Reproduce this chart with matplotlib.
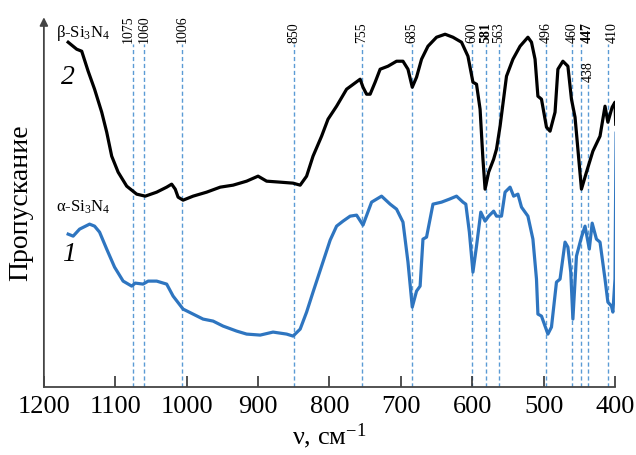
import matplotlib
matplotlib.use("Agg")
import matplotlib.pyplot as plt

plt.rcParams['font.family'] = ['Liberation Serif', 'DejaVu Serif']
plt.rcParams['mathtext.fontset'] = 'custom'
plt.rcParams['mathtext.rm'] = 'Liberation Serif'
plt.rcParams['mathtext.it'] = 'Liberation Serif:italic'

# IR spectrum of beta-Si3N4 (curve 2): wavenumber, cm^-1 and transmittance, arb. units
beta_wn = [1166, 1154, 1147, 1138, 1129, 1119, 1112, 1105, 1096, 1084, 1070, 1058,
           1042, 1028, 1021, 1016, 1012, 1005, 991, 972, 953, 935, 916, 900, 888,
           869, 851, 841, 832, 823, 811, 802, 790, 776, 757, 753, 748, 743, 736,
           729, 718, 706, 697, 690, 684, 678, 671, 662, 650, 638, 627, 615, 606,
           599, 594, 589, 585, 582, 577, 570, 566, 561, 552, 543, 533, 522, 517,
           512, 508, 503, 496, 491, 484, 480, 473, 466, 461, 456, 452, 447, 440,
           431, 421, 414, 410, 404, 400, 399]
beta_t = [345, 338, 336, 316, 298, 275, 255, 231, 215, 201, 193, 191,
          195, 200, 203, 198, 190, 187, 191, 195, 200, 202, 206, 211, 206,
          205, 204, 202, 211, 231, 251, 268, 281, 298, 308, 300, 293, 293, 305,
          318, 321, 326, 326, 318, 300, 310, 328, 341, 350, 353, 350, 345, 331,
          305, 303, 278, 228, 198, 215, 228, 238, 261, 311, 328, 341, 350, 345,
          328, 291, 288, 260, 256, 275, 318, 326, 321, 288, 270, 238, 198, 215,
          236, 251, 281, 265, 280, 285, 263]

# IR spectrum of alpha-Si3N4 (curve 1)
alpha_wn = [1166, 1159, 1150, 1136, 1129, 1122, 1112, 1101, 1089, 1077, 1072, 1061,
            1054, 1042, 1028, 1019, 1005, 991, 977, 963, 949, 930, 916, 897, 879,
            860, 851, 841, 832, 823, 811, 799, 790, 781, 771, 762, 753, 741, 727,
            715, 706, 697, 690, 684, 678, 673, 669, 664, 655, 643, 632, 622, 613,
            609, 604, 599, 594, 588, 582, 577, 570, 566, 559, 554, 547, 542, 536,
            531, 526, 522, 515, 510, 508, 503, 494, 489, 482, 477, 470, 466, 462,
            459, 454, 447, 442, 436, 432, 426, 421, 414, 410, 405, 403, 400, 399,
            398.5]
alpha_t = [153, 151, 158, 163, 161, 155, 138, 120, 106, 101, 104, 103,
           106, 106, 103, 91, 78, 73, 68, 66, 61, 56, 53, 52, 55,
           53, 51, 58, 75, 95, 121, 147, 161, 166, 171, 172, 162, 185, 191,
           183, 178, 165, 125, 80, 96, 101, 148, 150, 183, 185, 188, 191, 185,
           183, 155, 115, 141, 175, 166, 171, 176, 171, 171, 195, 200, 191, 193,
           180, 175, 171, 148, 108, 73, 71, 53, 60, 105, 108, 145, 140, 115,
           68, 131, 150, 161, 138, 164, 148, 145, 108, 85, 81, 75, 108, 208,
           254]

# Assigned absorption bands
band_wn = [1075, 1060, 1006, 850, 755, 685, 600, 581, 563, 496, 460, 447, 438, 410]
band_bold = [581, 447]

fig = plt.figure(figsize=(6.36, 4.56), dpi=100)
ax = fig.add_axes([0.069, 0.149, 0.898, 0.811])

ax.set_xlim(1200, 400)
ax.set_ylim(0, 370)

band_color = '#5b9bd5'
label_shift = {1075: 6.5, 447: -7.5, 410: -6}
for wn in band_wn:
    top = 303 if wn == 438 else 343
    ax.plot([wn, wn], [0, top], color=band_color, lw=1.0,
            linestyle=(0, (3, 2)), zorder=1)
    ly = 306 if wn == 438 else 345
    ax.text(wn + label_shift.get(wn, 0), ly, str(wn), rotation=90,
            ha='center', va='bottom', fontsize=10,
            fontweight='bold' if wn in band_bold else 'normal')

ax.plot(alpha_wn, alpha_t, color='#2e75c0', lw=2.3, zorder=3,
        solid_joinstyle='round')
ax.plot(beta_wn, beta_t, color='black', lw=2.3, zorder=4,
        solid_joinstyle='round')

ax.text(1145, 355, 'β-Si$_3$N$_4$', fontsize=12, ha='center', va='center')
ax.text(1145, 181, 'α-Si$_3$N$_4$', fontsize=12, ha='center', va='center')
ax.text(1166, 311, '2', fontsize=20, style='italic', ha='center', va='center')
ax.text(1165, 134, '1', fontsize=20, style='italic', ha='center', va='center')

ax.set_xticks([1200, 1100, 1000, 900, 800, 700, 600, 500, 400])
ax.tick_params(axis='x', direction='in', length=8, width=1.2, colors='#333333',
               labelsize=19, labelcolor='black', pad=6)
ax.set_yticks([])
ax.set_xlabel(r'ν, см$^{-1}$', fontsize=19, labelpad=2)
ax.set_ylabel('Пропускание', fontsize=20, labelpad=8)

for side in ('top', 'right', 'left'):
    ax.spines[side].set_visible(False)
ax.spines['bottom'].set_color('#444444')
ax.spines['bottom'].set_linewidth(1.3)

# y axis drawn as an arrow
ax.annotate('', xy=(0, 1.0), xytext=(0, 0), xycoords='axes fraction',
            arrowprops=dict(arrowstyle='-|>', color='#444444', lw=1.3,
                            mutation_scale=12, shrinkA=0, shrinkB=0))

fig.savefig('out.png', dpi=100)
